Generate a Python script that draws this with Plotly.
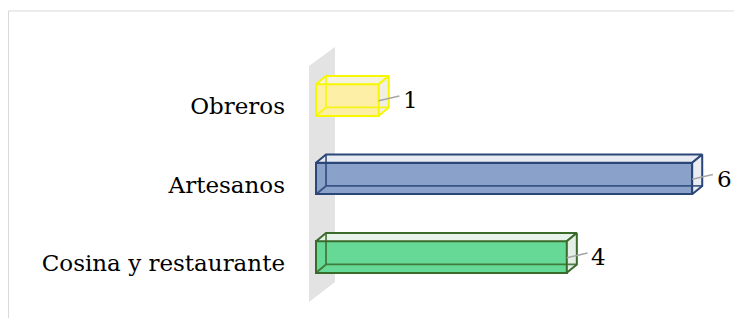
import plotly.graph_objects as go

categories = ["Cosina y restaurante", "Artesanos", "Obreros"]
values = [4, 6, 1]
positions = [0, 1, 2]

front_colors = ["#66d997", "#8aa2c9", "#fdf0a6"]
top_colors = ["#e6f2ea", "#e8ebf1", "#f6f3de"]
side_colors = ["#e3eee7", "#e9ecf1", "#f1eee3"]
edge_colors = ["#3b6b2b", "#2b4778", "#f7f700"]

FONT = "DejaVu Serif"
HH = 0.2      # half bar thickness
DX = 0.16     # depth offset in x units
DY = 0.105    # depth offset in y units

fig = go.Figure()

# front faces
fig.add_trace(go.Bar(
    y=positions, x=values, orientation="h", width=2 * HH,
    marker=dict(color=front_colors, line=dict(color=edge_colors, width=2)),
    hoverinfo="skip", showlegend=False,
))

for p, v, tc, sc, ec in zip(positions, values, top_colors, side_colors, edge_colors):
    lo, hi = p - HH, p + HH
    # top face
    fig.add_trace(go.Scatter(
        x=[0, v, v + DX, DX, 0], y=[hi, hi, hi + DY, hi + DY, hi],
        mode="lines", fill="toself", fillcolor=tc,
        line=dict(color=ec, width=2), hoverinfo="skip", showlegend=False,
    ))
    # right face
    fig.add_trace(go.Scatter(
        x=[v, v + DX, v + DX, v, v], y=[lo, lo + DY, hi + DY, hi, lo],
        mode="lines", fill="toself", fillcolor=sc,
        line=dict(color=ec, width=2), hoverinfo="skip", showlegend=False,
    ))
    # hidden edges seen through the box
    fig.add_trace(go.Scatter(
        x=[0, DX, v + DX, None, DX, DX], y=[lo, lo + DY, lo + DY, None, lo + DY, hi + DY],
        mode="lines", line=dict(color=ec, width=1.8), opacity=0.85,
        hoverinfo="skip", showlegend=False,
    ))
    # leader line
    fig.add_trace(go.Scatter(
        x=[v, v + 0.33], y=[p - 0.01, p + 0.05],
        mode="lines", line=dict(color="#a6a6a6", width=1.6),
        hoverinfo="skip", showlegend=False,
    ))
    fig.add_annotation(
        x=v + 0.33, y=p, xref="x", yref="y", text=str(v), showarrow=False,
        xanchor="left", yanchor="middle", xshift=2,
        font=dict(family=FONT, size=23, color="black"),
    )

# back wall
fig.add_shape(
    type="path", xref="x", yref="y", layer="below",
    path="M -0.112,2.433 L 0.303,2.675 L 0.303,-0.318 L -0.112,-0.573 Z",
    fillcolor="#e3e3e3", line=dict(width=0),
)

# outer border
fig.add_shape(
    type="rect", xref="paper", yref="paper",
    x0=-0.6398, y0=-0.3, x1=1.3, y1=1.0315,
    line=dict(color="#d9d9d9", width=1), fillcolor="rgba(0,0,0,0)",
)

fig.update_layout(
    width=726, height=310,
    paper_bgcolor="white", plot_bgcolor="white",
    margin=dict(l=282, r=4, t=12, b=12),
    bargap=0,
    xaxis=dict(range=[-0.4147, 6.603], visible=False, fixedrange=True),
    yaxis=dict(
        range=[-0.624, 3.019], tickmode="array",
        tickvals=[p - 0.08 for p in positions], ticktext=categories,
        showgrid=False, zeroline=False, showline=False, ticks="",
        ticklabelstandoff=4,
        tickfont=dict(family=FONT, size=23, color="black"),
    ),
    showlegend=False,
)

fig.write_html("out.html")
